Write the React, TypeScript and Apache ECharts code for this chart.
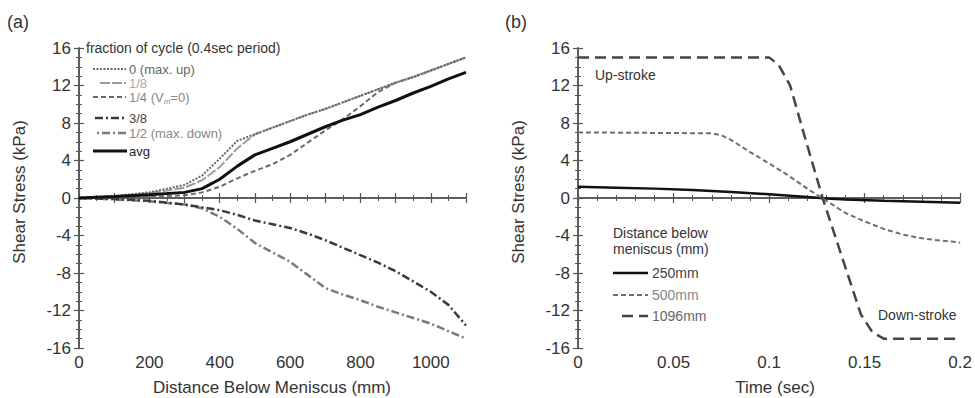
import React, { useEffect, useRef } from "react";
import * as echarts from "echarts";

// ---------- Panel (a) data ----------
const distance = [0, 100, 200, 300, 350, 400, 450, 500, 550, 600, 650, 700, 750, 800, 850, 900, 950, 1000, 1050, 1100];
const frac0 = [0, 0.2, 0.6, 1.4, 2.4, 4.2, 6.1, 6.8, 7.5, 8.2, 8.9, 9.5, 10.2, 10.9, 11.6, 12.3, 12.9, 13.6, 14.3, 15.0];
const frac18 = [0, 0.15, 0.5, 1.1, 1.9, 3.3, 5.3, 6.8, 7.5, 8.2, 8.9, 9.5, 10.2, 10.9, 11.6, 12.3, 12.9, 13.6, 14.3, 15.0];
const frac14 = [0, 0.05, 0.1, 0.3, 0.6, 1.2, 2.1, 2.9, 3.6, 4.6, 5.9, 7.2, 8.4, 9.8, 11.3, 12.3, 12.9, 13.6, 14.3, 15.0];
const frac38 = [0, -0.1, -0.3, -0.7, -1.0, -1.3, -1.8, -2.4, -2.8, -3.2, -3.8, -4.5, -5.3, -6.1, -6.9, -7.8, -8.9, -10.0, -11.4, -13.6];
const frac12 = [0, -0.15, -0.35, -0.7, -1.1, -2.0, -3.3, -4.8, -5.8, -6.8, -8.2, -9.6, -10.3, -10.9, -11.6, -12.2, -12.8, -13.4, -14.2, -15.0];
const fracAvg = [0, 0.15, 0.35, 0.6, 1.0, 2.0, 3.4, 4.6, 5.3, 6.0, 6.8, 7.6, 8.3, 8.9, 9.7, 10.4, 11.2, 11.9, 12.7, 13.4];

// ---------- Panel (b) data ----------
const t250 = [0, 0.02, 0.04, 0.06, 0.08, 0.1, 0.12, 0.13, 0.14, 0.16, 0.18, 0.2];
const v250 = [1.2, 1.1, 1.0, 0.85, 0.65, 0.4, 0.1, -0.05, -0.15, -0.3, -0.4, -0.5];
const t500 = [0, 0.07, 0.075, 0.08, 0.09, 0.1, 0.11, 0.12, 0.13, 0.14, 0.15, 0.16, 0.17, 0.18, 0.19, 0.2];
const v500 = [7.0, 6.9, 6.7, 6.2, 4.9, 3.7, 2.4, 1.0, -0.3, -1.6, -2.5, -3.3, -3.9, -4.3, -4.55, -4.75];
const t1096 = [0, 0.1, 0.105, 0.111, 0.118, 0.128, 0.138, 0.148, 0.154, 0.16, 0.2];
const v1096 = [15, 15, 14.2, 12.0, 7.0, 0, -6.2, -12.4, -14.3, -15, -15];

const yTicks = { min: -16, max: 16, interval: 4 };

const FONT = '"Liberation Sans", Arial, Helvetica, sans-serif';
const AX = "#555";
const TXT = "#333";

const zip = (xs: number[], ys: number[]) => xs.map((x, i) => [x, ys[i]]);

function axisBase(extra: any) {
  return {
    type: "value",
    axisLine: { show: true, lineStyle: { color: AX, width: 1.5 } },
    axisTick: { show: true, inside: true, length: 5, lineStyle: { color: AX, width: 1.2 } },
    minorTick: { show: true, length: 3, lineStyle: { color: AX, width: 1 } },
    splitLine: { show: false },
    minorSplitLine: { show: false },
    ...extra,
  };
}

function lbl(show: boolean, formatter?: any, margin = 8) {
  return show
    ? { show: true, color: TXT, fontSize: 17, fontFamily: FONT, margin, formatter }
    : { show: false };
}

function legLine(x1: number, x2: number, y: number, stroke: string, lineWidth: number, lineDash?: number[]) {
  return {
    type: "line",
    z: 100,
    shape: { x1, y1: y, x2, y2: y },
    style: { stroke, lineWidth, lineDash: lineDash || null },
  };
}

function txt(x: number, y: number, text: string, fontSize: number, fill: string, extra: any = {}) {
  return {
    type: "text",
    z: 100,
    x,
    y,
    style: { text, fontSize, fontFamily: FONT, fill, align: "left", verticalAlign: "middle", ...extra },
  };
}

export default function App() {
  const ref = useRef<HTMLDivElement>(null);
  useEffect(() => {
    if (!ref.current) return;
    const chart = echarts.init(ref.current, undefined, { renderer: "svg" });
    const xAFmt = (v: number) => (v % 200 === 0 && v <= 1000 ? String(v) : "");
    const xBFmt = (v: number) => String(Math.round(v * 100) / 100);
    const yFmt = (v: number) => String(v);
    const line = (name: string, data: number[][], xi: number, yi: number, color: string, width: number, type: any) => ({
      name,
      type: "line",
      xAxisIndex: xi,
      yAxisIndex: yi,
      data,
      showSymbol: false,
      symbol: "none",
      smooth: false,
      lineStyle: { color, width, type, cap: "butt" },
    });
    const minor = (n: number) => ({ show: true, splitNumber: n, length: 3, lineStyle: { color: AX } });
    const option: any = {
      animation: false,
      textStyle: { fontFamily: FONT },
      grid: [
        { left: 79, top: 48, width: 387, height: 300 },
        { left: 578, top: 48, width: 387, height: 300 },
      ],
      xAxis: [
        axisBase({ gridIndex: 0, position: "bottom", min: 0, max: 1100, interval: 100, minorTick: minor(2), axisLabel: { ...lbl(true, xAFmt, 6), interval: 0 } }),
        axisBase({ gridIndex: 0, position: "top", min: 0, max: 1100, interval: 100, minorTick: minor(2), axisLabel: lbl(false) }),
        axisBase({ gridIndex: 1, position: "bottom", min: 0, max: 0.2, interval: 0.05, minorTick: minor(5), axisLabel: { ...lbl(true, xBFmt, 6), interval: 0 } }),
        axisBase({ gridIndex: 1, position: "top", min: 0, max: 0.2, interval: 0.05, minorTick: minor(5), axisLabel: lbl(false) }),
      ],
      yAxis: [
        axisBase({ gridIndex: 0, position: "left", ...yTicks, minorTick: minor(4), axisLabel: lbl(true, yFmt, 8) }),
        axisBase({ gridIndex: 0, position: "right", ...yTicks, minorTick: minor(4), axisLabel: lbl(false) }),
        axisBase({ gridIndex: 1, position: "left", ...yTicks, minorTick: minor(4), axisLabel: lbl(true, yFmt, 8) }),
        axisBase({ gridIndex: 1, position: "right", ...yTicks, minorTick: minor(4), axisLabel: lbl(false) }),
      ],
      series: [
        line("1/2 (max. down)", zip(distance, frac12), 0, 0, "#7a7a7a", 2.5, [2, 3, 8, 3]),
        line("3/8", zip(distance, frac38), 0, 0, "#3a3a3a", 2.5, [8, 3, 2, 3]),
        line("1/4 (Vm=0)", zip(distance, frac14), 0, 0, "#6a6a6a", 2, [5, 3]),
        line("1/8", zip(distance, frac18), 0, 0, "#9a9a9a", 2, [10, 2]),
        line("0 (max. up)", zip(distance, frac0), 0, 0, "#666666", 2, [2, 1.5]),
        line("avg", zip(distance, fracAvg), 0, 0, "#111111", 3, "solid"),
        line("250mm", zip(t250, v250), 2, 2, "#111111", 2.5, "solid"),
        line("500mm", zip(t500, v500), 2, 2, "#6f6f6f", 2, [5, 3]),
        line("1096mm", zip(t1096, v1096), 2, 2, "#454545", 2.5, [11, 6]),
      ],
      graphic: [
        // panel labels
        txt(7, 22, "(a)", 18, TXT),
        txt(505, 22, "(b)", 18, TXT),
        // axis names
        { type: "text", z: 100, x: 19, y: 192, rotation: Math.PI / 2, style: { text: "Shear Stress (kPa)", fontSize: 17, fontFamily: FONT, fill: TXT, align: "center", verticalAlign: "middle" } },
        { type: "text", z: 100, x: 518, y: 192, rotation: Math.PI / 2, style: { text: "Shear Stress (kPa)", fontSize: 17, fontFamily: FONT, fill: TXT, align: "center", verticalAlign: "middle" } },
        txt(272, 387, "Distance Below Meniscus (mm)", 17, TXT, { align: "center" }),
        txt(775, 387, "Time (sec)", 17, TXT, { align: "center" }),
        // legend (a)
        { type: "rect", z: 99, shape: { x: 84, y: 40, width: 195, height: 16 }, style: { fill: "#fff" } },
        txt(86, 48, "fraction of cycle (0.4sec period)", 14, TXT),
        legLine(93, 126, 69, "#666666", 2, [2, 1.5]),
        txt(129, 69, "0 (max. up)", 13, "#666"),
        legLine(100, 126, 83, "#9a9a9a", 2, [10, 2]),
        txt(129, 83, "1/8", 13, "#aaa"),
        legLine(93, 126, 97, "#6a6a6a", 2, [5, 3]),
        {
          type: "text", z: 100, x: 129, y: 97,
          style: {
            text: "1/4 (V{m|m}=0)", fontSize: 13, fontFamily: FONT, fill: "#888", align: "left", verticalAlign: "middle",
            rich: { m: { fontSize: 8, fill: "#888", fontFamily: FONT, fontStyle: "italic", padding: [8, 0, 0, 0] } },
          },
        },
        legLine(95, 126, 118, "#3a3a3a", 2.5, [8, 3, 2, 3]),
        txt(129, 118, "3/8", 13, "#444"),
        legLine(97, 126, 133, "#7a7a7a", 2.5, [2, 3, 8, 3]),
        txt(129, 133, "1/2 (max. down)", 13, "#888"),
        legLine(93, 127, 151, "#111", 3),
        txt(129, 151, "avg", 13, "#222"),
        // annotations (b)
        txt(595, 75, "Up-stroke", 14, TXT),
        txt(878, 315, "Down-stroke", 14, TXT),
        // legend (b)
        txt(613, 233, "Distance below", 14, TXT),
        txt(613, 249, "meniscus (mm)", 14, TXT),
        legLine(613, 648, 273, "#111", 2.5),
        txt(652, 273, "250mm", 14, "#444"),
        legLine(613, 648, 295, "#6f6f6f", 2, [5, 3]),
        txt(652, 295, "500mm", 14, "#888"),
        legLine(622, 648, 316, "#454545", 2.5, [11, 6]),
        txt(652, 316, "1096mm", 14, "#666"),
      ],
    };
    chart.setOption(option);
    return () => chart.dispose();
  }, []);
  return <div ref={ref} style={{ position: "fixed", left: 0, top: 0, width: 975, height: 398, background: "#fff" }} />;
}
